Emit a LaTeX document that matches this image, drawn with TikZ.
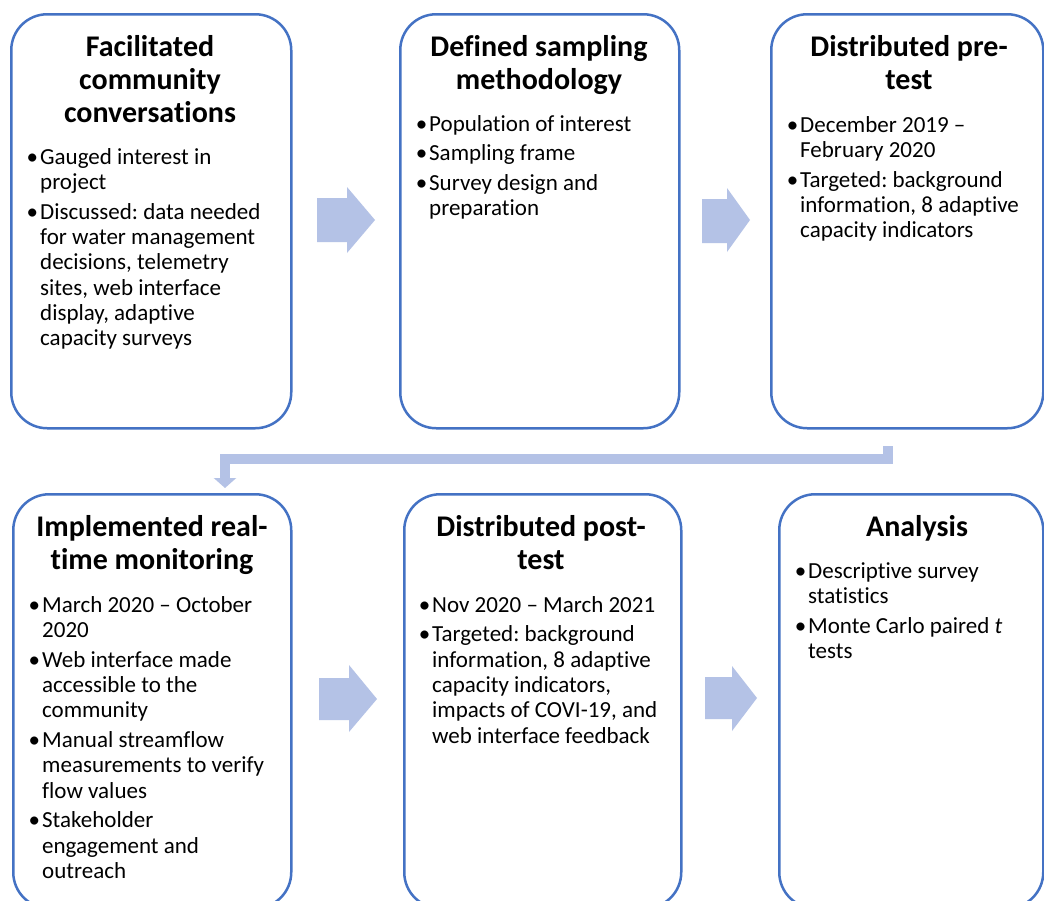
\documentclass[tikz,border=0pt]{standalone}
\usepackage{fontspec}
\setmainfont{Carlito}[Ligatures=NoCommon]
\usetikzlibrary{arrows.meta}
\frenchspacing
\definecolor{boxblue}{HTML}{4472C4}
\definecolor{arrowfill}{HTML}{B4C2E6}
\tikzset{
  card/.style={draw=boxblue, line width=2.5pt, rounded corners=36pt, fill=white, anchor=north west, inner sep=0pt},
  ttl/.style={anchor=base, inner sep=0pt, font=\fontsize{30}{33}\selectfont\bfseries},
  bodytxt/.style={anchor=base west, inner sep=0pt, font=\fontsize{23}{25.3}\selectfont},
  blockarrow/.style={fill=arrowfill},
  conn/.style={draw=arrowfill, line width=10pt, -{Triangle[width=22pt,length=10pt]}}
}
\newcommand\bu{\leavevmode\llap{•\hspace{2pt}}}
\newcommand\ttltext[1]{\parbox[t]{270pt}{\centering #1}}
\newcommand\bodytext[1]{\parbox[t]{250pt}{\raggedright\frenchspacing #1}}
\newcommand\gap{\\[4.5pt]}
\begin{document}
\begin{tikzpicture}[x=1pt,y=-1pt]
\useasboundingbox (0,0) rectangle (1044,900);
\clip (0,0) rectangle (1044,900);
\fill[white] (0,0) rectangle (1044,900);

% cards
\node[card, minimum width=280pt, minimum height=414pt] (b1) at (10,13) {};
\node[card, minimum width=279pt, minimum height=414pt] (b2) at (399,13) {};
\node[card, minimum width=272pt, minimum height=414pt] (b3) at (770,13) {};
\node[card, minimum width=278pt, minimum height=414pt] (b4) at (12,493) {};
\node[card, minimum width=277pt, minimum height=414pt] (b5) at (403,493) {};
\node[card, minimum width=264pt, minimum height=414pt] (b6) at (778,493) {};

% titles
\node[ttl] (t1) at (150,56) {\ttltext{Facilitated\\community\\conversations}};
\node[ttl] (t2) at (539,56) {\ttltext{Defined sampling\\methodology}};
\node[ttl] (t3) at (909,56) {\ttltext{Distributed pre-\\test}};
\node[ttl] (t4) at (152,536) {\ttltext{Implemented real-\\time monitoring}};
\node[ttl] (t5) at (541,536) {\ttltext{Distributed post-\\test}};
\node[ttl] (t6) at (917,536) {\ttltext{Analysis}};

% bodies
\node[bodytxt] (x1) at (40,164) {\bodytext{\bu Gauged interest in\\project\gap
\bu Discussed: data needed\\for water management\\decisions, telemetry\\sites, web interface\\display, adaptive\\capacity surveys}};
\node[bodytxt] (x2) at (429,131) {\bodytext{\bu Population of interest\gap
\bu Sampling frame\gap
\bu Survey design and\\preparation}};
\node[bodytxt] (x3) at (800,132) {\bodytext{\bu December 2019 –\\February 2020\gap
\bu Targeted: background\\information, 8 adaptive\\capacity indicators}};
\node[bodytxt] (x4) at (42,612) {\bodytext{\bu March 2020 – October\\2020\gap
\bu Web interface made\\accessible to the\\community\gap
\bu Manual streamflow\\measurements to verify\\flow values\gap
\bu Stakeholder\\engagement and\\outreach}};
\node[bodytxt] (x5) at (432,612) {\bodytext{\bu Nov 2020 – March 2021\gap
\bu Targeted: background\\information, 8 adaptive\\capacity indicators,\\impacts of COVI-19, and\\web interface feedback}};
\node[bodytxt] (x6) at (808,578) {\bodytext{\bu Descriptive survey\\statistics\gap
\bu Monte Carlo paired \textit{t}\\tests}};

% block arrows
\fill[blockarrow] (317,198) -- (347,198) -- (347,187) -- (375,220) -- (347,253) -- (347,242) -- (317,242) -- cycle;
\fill[blockarrow] (702,199) -- (727,199) -- (727,188) -- (750,220) -- (727,252) -- (727,243) -- (702,243) -- cycle;
\fill[blockarrow] (319,678) -- (349,678) -- (349,665) -- (377,699) -- (349,732) -- (349,720) -- (319,720) -- cycle;
\fill[blockarrow] (705,677) -- (732,677) -- (732,666) -- (757,698) -- (732,731) -- (732,719) -- (705,719) -- cycle;

% elbow connector from row 1 to row 2
\coordinate (c1) at (888,446);
\coordinate (c2) at (225,488);
\draw[conn] (c1) -- (888,459) -- (225,459) -- (c2);
\end{tikzpicture}
\end{document}
